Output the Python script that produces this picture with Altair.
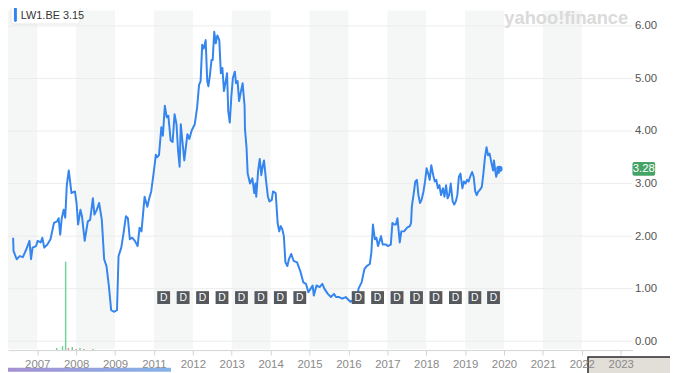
import altair as alt
import pandas as pd

# ---------------- data ----------------
dates = [
    2007.38, 2007.39, 2007.47, 2007.55, 2007.63, 2007.72, 2007.80, 2007.84, 2007.88, 2007.97,
    2008.01, 2008.09, 2008.13, 2008.18, 2008.26, 2008.34, 2008.43, 2008.51, 2008.55, 2008.59,
    2008.63, 2008.68, 2008.72, 2008.76, 2008.81, 2008.88, 2008.97, 2009.01, 2009.05, 2009.11,
    2009.15, 2009.22, 2009.30, 2009.36, 2009.43, 2009.47, 2009.53, 2009.59, 2009.66, 2009.72,
    2009.78, 2009.84, 2009.90, 2009.97, 2010.05, 2010.09, 2010.16, 2010.22, 2010.28, 2010.33,
    2010.38, 2010.44, 2010.51, 2010.58, 2010.63, 2010.68, 2010.76, 2010.83, 2010.88, 2010.93,
    2010.99, 2011.05, 2011.08, 2011.13, 2011.19, 2011.23, 2011.28, 2011.33, 2011.37, 2011.43,
    2011.48, 2011.53, 2011.58, 2011.62, 2011.66, 2011.69, 2011.73, 2011.78, 2011.82, 2011.86,
    2011.91, 2011.97, 2012.05, 2012.11, 2012.16, 2012.20, 2012.24, 2012.28, 2012.33, 2012.37,
    2012.40, 2012.44, 2012.48, 2012.51, 2012.55, 2012.59, 2012.63, 2012.68, 2012.72, 2012.76,
    2012.80, 2012.86, 2012.88, 2012.91, 2012.95, 2012.99, 2013.03, 2013.08, 2013.11, 2013.15,
    2013.19, 2013.23, 2013.28, 2013.33, 2013.34, 2013.38, 2013.41, 2013.47, 2013.53, 2013.58,
    2013.61, 2013.63, 2013.68, 2013.72, 2013.76, 2013.80, 2013.83, 2013.88, 2013.93, 2013.97,
    2014.03, 2014.06, 2014.13, 2014.18, 2014.22, 2014.26, 2014.30, 2014.34, 2014.38, 2014.43,
    2014.47, 2014.53, 2014.59, 2014.68, 2014.76, 2014.84, 2014.91, 2014.97, 2015.03, 2015.08,
    2015.11, 2015.18, 2015.26, 2015.33, 2015.38, 2015.47, 2015.55, 2015.63, 2015.68, 2015.76,
    2015.84, 2015.93, 2016.05, 2016.13, 2016.22, 2016.26, 2016.34, 2016.41, 2016.47, 2016.55,
    2016.59, 2016.63, 2016.68, 2016.72, 2016.76, 2016.84, 2016.88, 2016.97, 2017.01, 2017.09,
    2017.13, 2017.18, 2017.22, 2017.26, 2017.28, 2017.32, 2017.36, 2017.43, 2017.51, 2017.58,
    2017.61, 2017.63, 2017.68, 2017.72, 2017.76, 2017.80, 2017.84, 2017.88, 2017.93, 2017.97,
    2018.01, 2018.05, 2018.09, 2018.13, 2018.18, 2018.22, 2018.26, 2018.30, 2018.34, 2018.38,
    2018.43, 2018.47, 2018.51, 2018.55, 2018.59, 2018.63, 2018.68, 2018.72, 2018.76, 2018.80,
    2018.84, 2018.88, 2018.93, 2018.97, 2019.01, 2019.05, 2019.09, 2019.13, 2019.18, 2019.22,
    2019.26, 2019.30, 2019.34, 2019.38, 2019.43, 2019.47, 2019.51, 2019.55, 2019.59, 2019.63,
    2019.68, 2019.72, 2019.74, 2019.78, 2019.80, 2019.84, 2019.88,
]
prices = [
    1.97, 1.72, 1.56, 1.62, 1.60, 1.75, 1.91, 1.56, 1.78, 1.81,
    1.91, 1.88, 1.97, 1.78, 1.84, 1.94, 2.25, 2.28, 2.34, 2.03,
    2.34, 2.50, 2.35, 2.97, 3.25, 2.82, 2.85, 2.63, 2.22, 2.50,
    2.38, 1.91, 2.28, 2.31, 2.72, 2.41, 2.50, 2.63, 2.31, 1.56,
    1.43, 1.06, 0.59, 0.56, 0.59, 1.62, 1.78, 2.06, 2.38, 2.34,
    1.94, 1.97, 1.91, 1.81, 2.16, 2.09, 2.75, 2.56, 2.72, 2.85,
    3.19, 3.55, 3.50, 3.54, 4.07, 3.91, 4.48, 4.26, 4.29, 3.82,
    3.79, 4.32, 4.13, 3.63, 3.32, 4.13, 3.82, 3.44, 3.69, 3.94,
    3.85, 4.01, 4.13, 4.45, 4.88, 4.95, 5.64, 5.57, 5.73, 4.95,
    4.85, 5.07, 5.35, 5.35, 5.89, 5.67, 5.82, 5.73, 5.10, 5.20,
    4.76, 5.01, 5.10, 4.38, 4.16, 4.66, 5.01, 5.13, 4.91, 4.95,
    4.57, 4.73, 4.91, 4.48, 4.04, 3.69, 3.19, 3.00, 3.10, 2.82,
    3.00, 2.75, 3.25, 3.47, 3.16, 3.35, 3.44, 3.07, 2.75, 2.66,
    2.69, 2.85, 2.82, 2.25, 2.09, 2.19, 2.13, 2.00, 1.50, 1.43,
    1.56, 1.66, 1.53, 1.50, 1.34, 1.12, 1.09, 0.93, 1.00, 1.06,
    0.87, 1.06, 1.03, 1.09, 1.00, 0.90, 0.84, 0.90, 0.84, 0.84,
    0.81, 0.84, 0.75, 0.78, 0.81, 1.00, 1.12, 1.37, 1.43, 1.47,
    1.69, 2.22, 1.94, 1.97, 1.81, 2.00, 1.84, 1.84, 1.81, 1.84,
    2.25, 2.22, 2.22, 2.34, 2.19, 1.88, 2.09, 2.09, 2.16, 2.19,
    2.25, 2.56, 2.82, 3.04, 3.07, 2.78, 2.63, 2.69, 2.85, 3.04,
    3.29, 3.19, 3.07, 3.35, 3.16, 3.04, 3.07, 2.91, 2.97, 2.78,
    2.91, 2.75, 2.97, 2.72, 2.78, 3.00, 2.66, 2.60, 2.66, 2.78,
    3.13, 3.19, 2.91, 3.04, 3.00, 3.07, 3.04, 3.13, 3.22, 3.13,
    2.85, 2.78, 2.85, 2.88, 2.94, 3.19, 3.50, 3.69, 3.54, 3.57,
    3.38, 3.25, 3.44, 3.22, 3.13, 3.25, 3.19,
]

tick_positions = list(range(2008, 2024))
tick_labels = ["2007", "2008", "2009", "2011", "2012", "2013", "2014", "2015",
               "2016", "2017", "2018", "2019", "2020", "2021", "2022", "2023"]
band_starts = [2007, 2009, 2011, 2013, 2015, 2017, 2019, 2021]
grid_values = [0, 1, 2, 3, 4, 5, 6]

div_dates = [2011.25, 2011.75, 2012.25, 2012.75, 2013.25, 2013.75, 2014.25, 2014.75,
             2016.25, 2016.75, 2017.25, 2017.75, 2018.25, 2018.75, 2019.25, 2019.73]
div_level = 0.83

vol_dates = [2008.50, 2008.65, 2008.73, 2008.80, 2008.90, 2009.00, 2009.10, 2009.20, 2009.43]
vol_values = [1200, 2300, 52000, 1200, 1800, 600, 1200, 600, 600]
vol_dir = ["up", "up", "up", "down", "up", "down", "up", "down", "up"]

last_date = 2019.88
last_price = 3.28
symbol = "LW1.BE"
legend_price = "3.15"

# ---------------- frames ----------------
df_line = pd.DataFrame({"t": dates, "p": prices})
df_bands = pd.DataFrame({"s": band_starts, "e": [b + 1 for b in band_starts]})
df_grid = pd.DataFrame({"g": grid_values})
df_div = pd.DataFrame({"t": div_dates, "p": [div_level] * len(div_dates), "lbl": ["D"] * len(div_dates)})
df_vol = pd.DataFrame({"t": vol_dates, "v": vol_values, "dir": vol_dir})
df_last = pd.DataFrame({"t": [last_date], "p": [last_price], "lbl": [f"{last_price:.2f}"],
                        "lo": [last_price - 0.13], "hi": [last_price + 0.13]})
df_one = pd.DataFrame({"k": [0]})

FONT = "Liberation Sans"
BLUE = "#3585ef"
X_DOM = [2007.375, 2023.175]
Y_DOM = [-0.169, 6.30]
xs = alt.Scale(domain=X_DOM, nice=False, zero=False)
ys = alt.Scale(domain=Y_DOM, nice=False, zero=False)

label_js = "[" + ",".join(f"'{l}'" for l in tick_labels) + "]"
x_axis = alt.Axis(values=tick_positions, labelExpr=f"{label_js}[round(datum.value) - {tick_positions[0]}]",
                  title=None, grid=False, domainColor="#d3d3d3", tickColor="#d3d3d3", tickSize=5,
                  labelColor="#8a8a8a", labelFont=FONT, labelFontSize=11.5, labelPadding=4,
                  labelOverlap=False, labelFlush=False, labelBound=False, zindex=1)
y_axis = alt.Axis(orient="right", values=grid_values, format=".2f", domain=False, ticks=False,
                  grid=False, labelColor="#555555", labelFont=FONT, labelFontSize=11.5,
                  labelPadding=2, title=None)


def X(field):
    return alt.X(field, scale=xs, axis=x_axis)


bands = alt.Chart(df_bands).mark_rect(color="#f5f6f6", clip=True).encode(
    x=X("s:Q"), x2="e:Q", y=alt.value(0), y2=alt.value(343))

grid = alt.Chart(df_grid).mark_rule(color="#ececec", strokeWidth=1).encode(
    y=alt.Y("g:Q", scale=ys, axis=y_axis))

vol = alt.Chart(df_vol).mark_bar(width=1.5).encode(
    x=X("t:Q"),
    y=alt.Y("v:Q", scale=alt.Scale(domain=[0, 200000], nice=False), axis=None),
    color=alt.Color("dir:N", scale=alt.Scale(domain=["up", "down"], range=["#6fd39a", "#f08a8a"]), legend=None))

line = alt.Chart(df_line).mark_line(color=BLUE, strokeWidth=2, strokeJoin="round").encode(
    x=X("t:Q"), y=alt.Y("p:Q", scale=ys, axis=None))

badges = alt.Chart(df_div).mark_square(size=169, color="#55595d", opacity=1, filled=True).encode(
    x=X("t:Q"), y=alt.Y("p:Q", scale=ys, axis=None))
badge_txt = alt.Chart(df_div).mark_text(color="white", fontSize=10.5, font=FONT, baseline="middle").encode(
    x=X("t:Q"), y=alt.Y("p:Q", scale=ys, axis=None), text="lbl:N")

dot = alt.Chart(df_last).mark_circle(color=BLUE, size=42, opacity=1).encode(
    x=X("t:Q"), y=alt.Y("p:Q", scale=ys, axis=None))

tag = alt.Chart(df_last).mark_rect(color="#45a366", cornerRadius=2, clip=False).encode(
    x=alt.value(632), x2=alt.value(655),
    y=alt.Y("hi:Q", scale=ys, axis=None), y2="lo:Q")
tag_txt = alt.Chart(df_last).mark_text(color="white", fontSize=11.5, font=FONT, baseline="middle",
                                       align="center").encode(
    x=alt.value(643.5), y=alt.Y("p:Q", scale=ys, axis=None), text="lbl:N")

leg_box = alt.Chart(df_one).mark_rect(color="white", stroke="#e6e6e6", cornerRadius=3).encode(
    x=alt.value(3), x2=alt.value(73), y=alt.value(-4), y2=alt.value(14))
leg_bar = alt.Chart(df_one).mark_rect(color=BLUE, cornerRadius=1.5).encode(
    x=alt.value(6), x2=alt.value(9), y=alt.value(-4), y2=alt.value(12))
leg_txt = alt.Chart(df_one).mark_text(text=f"{symbol}  {legend_price}", color="#333333", fontSize=11,
                                      font=FONT, align="left", baseline="middle").encode(
    x=alt.value(13), y=alt.value(5.5))

watermark = alt.Chart(df_one).mark_text(text="yahoo!finance", color="#dadada", fontSize=18.5,
                                        fontWeight="bold", font=FONT, align="center",
                                        baseline="alphabetic").encode(
    x=alt.value(565), y=alt.value(14))

strip = alt.Chart(df_one).mark_rect(color=alt.Gradient(
    gradient="linear", x1=0, x2=1, y1=0, y2=0,
    stops=[alt.GradientStop(color="#a690d2", offset=0), alt.GradientStop(color="#84b3ea", offset=1)])).encode(
    x=alt.value(-1), x2=alt.value(165), y=alt.value(362), y2=alt.value(366))

thumb = alt.Chart(df_one).mark_rect(color="#e2ded8", stroke="#2a2a2a", strokeWidth=1.5).encode(
    x=alt.value(587), x2=alt.value(672), y=alt.value(351), y2=alt.value(368))

chart = alt.layer(
    bands, grid, vol, line, badges, badge_txt, dot, tag, tag_txt,
    leg_box, leg_bar, leg_txt, watermark, strip, thumb
).resolve_scale(y="independent").properties(
    width=632, height=344,
    padding={"left": 0, "top": 0, "right": 38, "bottom": 21},
    autosize=alt.AutoSizeParams(type="none"),
).configure_view(stroke=None)

chart.save("out.html", embed_options={"renderer": "svg", "actions": False})
